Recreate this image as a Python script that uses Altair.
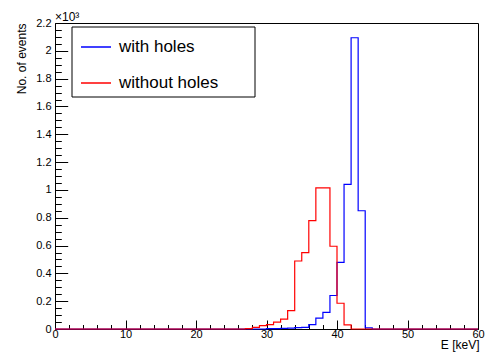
import altair as alt
import pandas as pd

# ---- data (bin contents, 1 keV bins from 0 to 60 keV) ----
bin_edges = list(range(0, 61))
with_holes = [0] * 30 + [2, 3, 5, 7, 10, 12, 31, 78, 119, 241, 479, 1040, 2094, 850, 8] + [0] * 15
without_holes = [0] * 27 + [3, 12, 24, 32, 50, 71, 132, 489, 549, 779, 1014, 1014, 595, 185, 30] + [0] * 18
series_names = ["with holes", "without holes"]
series_colors = ["#0000ff", "#ff0000"]
x_major = [0, 10, 20, 30, 40, 50, 60]
x_minor = list(range(0, 61, 2))
y_major = list(range(0, 2201, 200))
y_minor = list(range(0, 2201, 50))
x_title = "E [keV]"
y_title = "No. of events"
exponent_label = "\u00d710\u00b3"

FONT = "Liberation Sans"
W, H = 423, 306

rows = []
for name, vals in zip(series_names, [with_holes, without_holes]):
    for e, v in zip(bin_edges[:-1], vals):
        rows.append({"series": name, "E": e, "N": v})
    rows.append({"series": name, "E": bin_edges[-1], "N": vals[-1]})
df = pd.DataFrame(rows)

xscale = alt.Scale(domain=[0, 60], nice=False, zero=False)
yscale = alt.Scale(domain=[0, 2200], nice=False)

base = alt.Chart(df)


def tick_layer(xv, yv, xlen, ylen):
    return base.mark_line(opacity=0).encode(
        x=alt.X("E:Q", scale=xscale, axis=alt.Axis(
            orient="top", offset=-H, values=xv, labels=False, domain=False, grid=False,
            ticks=True, tickSize=xlen, tickColor="black", tickWidth=1, title=None)),
        y=alt.Y("N:Q", scale=yscale, axis=alt.Axis(
            orient="right", offset=-W, values=yv, labels=False, domain=False, grid=False,
            ticks=True, tickSize=ylen, tickColor="black", tickWidth=1, title=None)),
    )


major = tick_layer(x_major, y_major, 9, 12.7)
minor = tick_layer(x_minor, y_minor, 4.5, 6.3)

lines = base.mark_line(interpolate="step-after", strokeWidth=1.2).encode(
    x=alt.X("E:Q", scale=xscale, axis=alt.Axis(
        orient="bottom", values=x_major, ticks=False, tickSize=0, domain=False, grid=False,
        labelFontSize=11, labelPadding=-1, labelFlush=False, labelOverlap=False,
        labelColor="black", labelFont=FONT,
        title=x_title, titleFontSize=12, titleFontWeight="normal", titleFont=FONT,
        titleColor="black", titleAnchor="end", titleAlign="right",
        titleX=W + 1, titleY=19, titleBaseline="alphabetic")),
    y=alt.Y("N:Q", scale=yscale, axis=alt.Axis(
        orient="left", values=y_major, ticks=False, tickSize=0, domain=False, grid=False,
        labelExpr="'' + datum.value / 1000", labelFontSize=11, labelPadding=4,
        labelFlush=False, labelOverlap=False, labelColor="black", labelFont=FONT,
        title=y_title, titleFontSize=12, titleFontWeight="normal", titleFont=FONT,
        titleColor="black", titleAngle=270, titleAlign="right", titleX=-30, titleY=0,
        titleBaseline="alphabetic")),
    color=alt.Color("series:N", scale=alt.Scale(domain=series_names, range=series_colors),
                    legend=alt.Legend(
                        orient="none", legendX=17, legendY=4, title=None,
                        symbolType="stroke", symbolSize=900,
                        symbolStrokeWidth=1.5, labelFontSize=17, labelFont=FONT,
                        labelColor="black", labelOffset=7, rowPadding=12, padding=4,
                        symbolOffset=4)),
)

# legend frame (ROOT-style box), drawn beneath the legend entries
legend_box = alt.Chart(pd.DataFrame({"k": [0]})).mark_rect(
    fill="white", stroke="black", strokeWidth=1
).encode(x=alt.value(17), x2=alt.value(200), y=alt.value(4), y2=alt.value(74))

expo = alt.Chart(pd.DataFrame({"t": [exponent_label]})).mark_text(
    align="left", baseline="alphabetic", fontSize=12, font=FONT, color="black"
).encode(text="t:N", x=alt.value(0), y=alt.value(-2))

chart = alt.layer(minor, major, lines, legend_box, expo).resolve_axis(
    x="independent", y="independent"
).properties(
    width=W, height=H,
    autosize=alt.AutoSizeParams(type="none"),
    padding={"left": 55, "top": 23, "right": 7, "bottom": 28},
).configure_view(stroke="black", strokeWidth=1)

chart.save("out.html", embed_options={"renderer": "svg", "actions": False})
